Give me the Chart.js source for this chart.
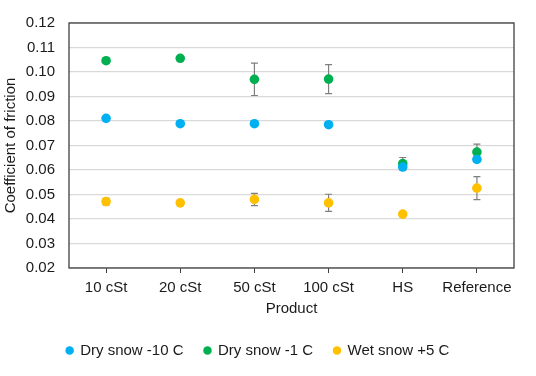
<!DOCTYPE html>
<html>
<head>
<meta charset="utf-8">
<script src="https://cdn.jsdelivr.net/npm/chart.js@4/dist/chart.umd.min.js"></script>
<style>
  html, body { margin: 0; padding: 0; background: #fff; }
  #wrap { width: 536px; height: 376px; }
</style>
</head>
<body>
<div id="wrap"><canvas id="chart" width="536" height="376"></canvas></div>
<script>
// product categories
const products = ['10 cSt', '20 cSt', '50 cSt', '100 cSt', 'HS', 'Reference'];

// mean coefficient of friction per condition
const drySnowMinus10 = [0.0811, 0.0789, 0.0789, 0.0785, 0.0612, 0.0643];
const drySnowMinus1 = [0.1046, 0.1056, 0.0970, 0.0971, 0.0626, 0.0673];
const wetSnowPlus5 = [0.0471, 0.0466, 0.0480, 0.0466, 0.0420, 0.0526];

// standard deviations (error bars)
const drySnowMinus10Err = [0.0005, 0.0005, 0.0005, 0.0005, 0.0005, 0.0005];
const drySnowMinus1Err = [0.0008, 0.0007, 0.0066, 0.0059, 0.0025, 0.0033];
const wetSnowPlus5Err = [0.0013, 0.0010, 0.0025, 0.0035, 0.0, 0.0047];

const yTicks = [0.02, 0.03, 0.04, 0.05, 0.06, 0.07, 0.08, 0.09, 0.10, 0.11, 0.12];

const textColor = '#1a1a1a';
const font = { family: 'Liberation Sans, Arial, sans-serif', size: 15 };

const errorBars = {
    id: 'errorBars',
    beforeDatasetsDraw(chart) {
        const { ctx, scales } = chart;
        ctx.save();
        ctx.strokeStyle = '#7f7f7f';
        ctx.lineWidth = 1.2;
        chart.data.datasets.forEach((ds, i) => {
            const meta = chart.getDatasetMeta(i);
            ds.errors.forEach((err, j) => {
                if (!err) return;
                const x = meta.data[j].x;
                const top = scales.y.getPixelForValue(ds.data[j] + err);
                const bot = scales.y.getPixelForValue(ds.data[j] - err);
                ctx.beginPath();
                ctx.moveTo(x, top); ctx.lineTo(x, bot);
                ctx.moveTo(x - 3.5, top); ctx.lineTo(x + 3.5, top);
                ctx.moveTo(x - 3.5, bot); ctx.lineTo(x + 3.5, bot);
                ctx.stroke();
            });
        });
        ctx.restore();
    }
};

const plotFrame = {
    id: 'plotFrame',
    afterDraw(chart) {
        const { ctx, chartArea: a } = chart;
        ctx.save();
        ctx.strokeStyle = '#404040';
        ctx.lineWidth = 1.3;
        ctx.strokeRect(a.left, a.top, a.right - a.left, a.bottom - a.top);
        ctx.restore();
    }
};

function series(label, data, errors, color) {
    return {
        label: label,
        data: data,
        errors: errors,
        showLine: false,
        backgroundColor: color,
        borderColor: color,
        pointRadius: 4.8,
        pointHoverRadius: 4.8,
        pointBorderWidth: 0
    };
}

new Chart(document.getElementById('chart'), {
    type: 'line',
    data: {
        labels: products,
        datasets: [
            series('Dry snow -10 C', drySnowMinus10, drySnowMinus10Err, '#00b0f0'),
            series('Dry snow -1 C', drySnowMinus1, drySnowMinus1Err, '#00b050'),
            series('Wet snow +5 C', wetSnowPlus5, wetSnowPlus5Err, '#ffc000')
        ]
    },
    options: {
        responsive: false,
        animation: false,
        layout: { padding: { left: 2, top: 19, right: 22, bottom: 8 } },
        plugins: {
            tooltip: { enabled: false },
            legend: {
                position: 'bottom',
                labels: {
                    usePointStyle: true,
                    pointStyle: 'circle',
                    boxWidth: 6,
                    boxHeight: 6,
                    padding: 21,
                    color: textColor,
                    font: font
                }
            }
        },
        scales: {
            x: {
                offset: true,
                grid: { display: true, drawOnChartArea: false, offset: false, tickLength: 5, color: '#404040' },
                border: { display: false },
                ticks: { color: textColor, font: font, padding: 6, maxRotation: 0 },
                title: { display: true, text: 'Product', color: textColor, font: font, padding: { top: 0, bottom: 4 } },
                afterFit(scale) { scale.height = 54; }
            },
            y: {
                min: 0.02,
                max: 0.12,
                afterBuildTicks(scale) { scale.ticks = yTicks.map(v => ({ value: v })); },
                grid: { color: '#d9d9d9', lineWidth: 1.3, drawTicks: false },
                border: { display: false },
                ticks: {
                    color: textColor,
                    font: font,
                    padding: 14,
                    callback: v => v.toFixed(2)
                },
                title: { display: true, text: 'Coefficient of friction', color: textColor, font: font, padding: { top: 0, bottom: 0 } },
                afterFit(scale) { scale.width = 67; }
            }
        }
    },
    plugins: [errorBars, plotFrame]
});
</script>
</body>
</html>
